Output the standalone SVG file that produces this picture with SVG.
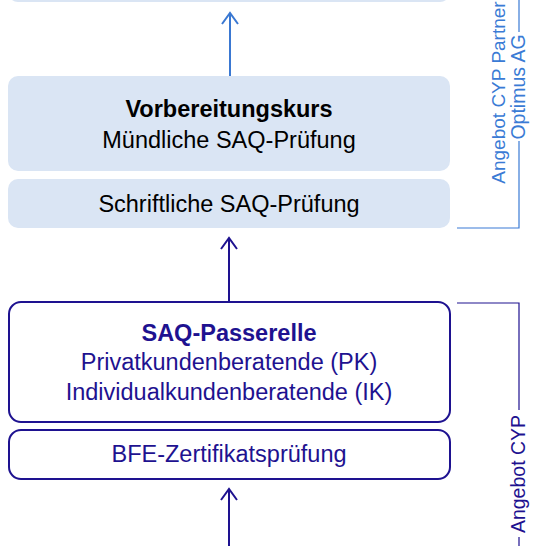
<svg xmlns="http://www.w3.org/2000/svg" width="546" height="546" viewBox="0 0 546 546">
<defs>
<style>
.lb{fill:#dae5f4;stroke:none}
.nb{fill:#ffffff;stroke:#1e1290;stroke-width:2}
.t{font-family:"Liberation Sans",Arial,sans-serif;font-size:23.5px;text-anchor:middle}
.k{fill:#000000}
.n{fill:#1e1290}
.b{font-weight:bold}
.a1{fill:none;stroke:#3a78d2;stroke-width:2}
.a2{fill:none;stroke:#1e1290;stroke-width:2}
.r{font-family:"Liberation Sans",Arial,sans-serif;font-size:19px;text-anchor:middle}
.lt{fill:#3a7bd5}
.l1{fill:none;stroke:#3a7bd5;stroke-width:1.2}
.l2{fill:none;stroke:#1e1290;stroke-width:1.2}
</style>
</defs>
<rect width="546" height="546" fill="#ffffff"/>
<g id="node-top">
<rect class="lb" x="8" y="-60" width="442" height="62" rx="10"/>
</g>
<g id="node-vorbereitung">
<rect class="lb" x="8" y="76" width="442" height="95" rx="10"/>
<text class="t k b" x="229" y="117">Vorbereitungskurs</text>
<text class="t k" x="229" y="148">Mündliche SAQ-Prüfung</text>
</g>
<g id="node-schriftlich">
<rect class="lb" x="8" y="179" width="442" height="49" rx="10"/>
<text class="t k" x="229" y="212">Schriftliche SAQ-Prüfung</text>
</g>
<g id="node-passerelle">
<rect class="nb" x="9" y="302" width="441" height="120" rx="12"/>
<text class="t n b" x="229" y="341">SAQ-Passerelle</text>
<text class="t n" x="229" y="370">Privatkundenberatende (PK)</text>
<text class="t n" x="229" y="400">Individualkundenberatende (IK)</text>
</g>
<g id="node-bfe">
<rect class="nb" x="9" y="430" width="441" height="49" rx="12"/>
<text class="t n" x="229" y="462">BFE-Zertifikatsprüfung</text>
</g>
<g id="connectors">
<path class="a1" d="M230 76 V13 M222 24 L230 13 L238 24"/>
<path class="a2" d="M229 301 V238 M221 249 L229 238 L237 249"/>
<path class="a2" d="M229 546 V489 M221 500 L229 489 L237 500"/>
</g>
<g id="label-partner">
<path class="l1" d="M457 228 H519 V141 M519 32 V0"/>
<text class="r lt" transform="translate(505,92.5) rotate(-90)">Angebot CYP Partner</text>
<text class="r lt" style="font-size:19.5px" transform="translate(525,87) rotate(-90)">Optimus AG</text>
</g>
<g id="label-cyp">
<path class="l2" d="M457 303 H519 V410 M519 537 V546"/>
<text class="r n" style="font-size:19.5px" transform="translate(525,474) rotate(-90)">Angebot CYP</text>
</g>
</svg>
